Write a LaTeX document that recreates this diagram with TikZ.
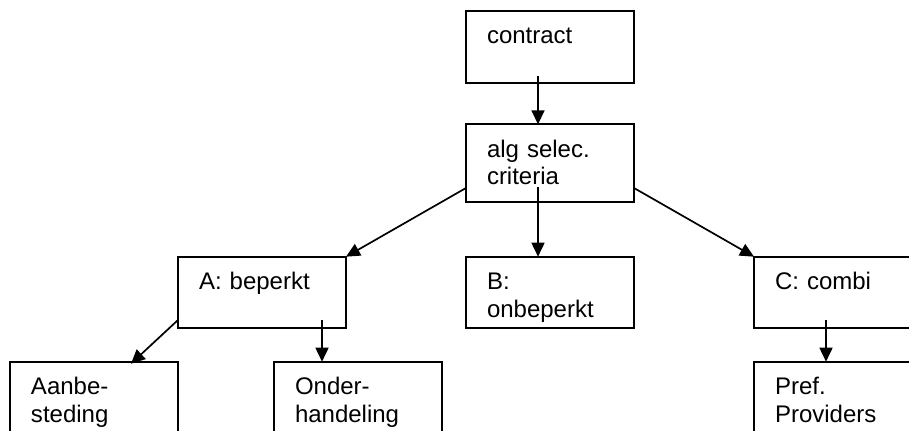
\documentclass[tikz,border=0pt]{standalone}
\usepackage{fontspec}
\setmainfont{Liberation Sans}
\usetikzlibrary{arrows.meta}

\begin{document}
\begin{tikzpicture}[x=0.5pt, y=-0.5pt,
		blok/.style={draw, line width=1pt, anchor=north west, inner xsep=10.5pt, inner ysep=0pt, outer sep=0pt, text width=63pt, align=left, text height=16.5pt, text depth=#1, font=\fontsize{12}{13.8}\selectfont},
		pijl/.style={line width=0.85pt, -{Triangle[length=7pt, width=6.5pt]}}]
		\useasboundingbox (0,0) rectangle (909,431);
		\clip (0,0) rectangle (909,431);
		\node[blok=19.5pt] (contract) at (466,10.7) {contract};
		\node[blok=22.2pt] (alg) at (466,124.3) {alg selec.\\criteria};
		\node[blok=19.3pt] (beperkt) at (178,256.7) {A: beperkt};
		\node[blok=19.3pt] (onbeperkt) at (466,256.7) {B:\\onbeperkt};
		\node[blok=19.3pt] (combi) at (754,256.7) {C: combi};
		\node[blok=19.5pt] (aanbe) at (10,361.7) {Aanbe-\\steding};
		\node[blok=19.5pt] (onder) at (274,361.7) {Onder-\\handeling};
		\node[blok=19.5pt] (pref) at (754,361.7) {Pref.\\Providers};
		\draw[pijl] ([xshift=36pt, yshift=3.3pt]contract.south west) -- ([xshift=36pt]alg.north west);
		\draw[pijl] ([yshift=6.85pt]alg.south west) -- (beperkt.north east);
		\draw[pijl] ([xshift=36pt, yshift=7.3pt]alg.south west) -- ([xshift=36pt]onbeperkt.north west);
		\draw[pijl] ([yshift=6.85pt]alg.south east) -- (combi.north west);
		\draw[pijl] ([yshift=4.15pt]beperkt.south west) -- ([xshift=60.5pt, yshift=-1pt]aanbe.north west);
		\draw[pijl] ([xshift=72pt, yshift=4.15pt]beperkt.south west) -- ([xshift=24pt]onder.north west);
		\draw[pijl] ([xshift=36pt, yshift=4.15pt]combi.south west) -- ([xshift=36pt]pref.north west);
	\end{tikzpicture}
\end{document}
